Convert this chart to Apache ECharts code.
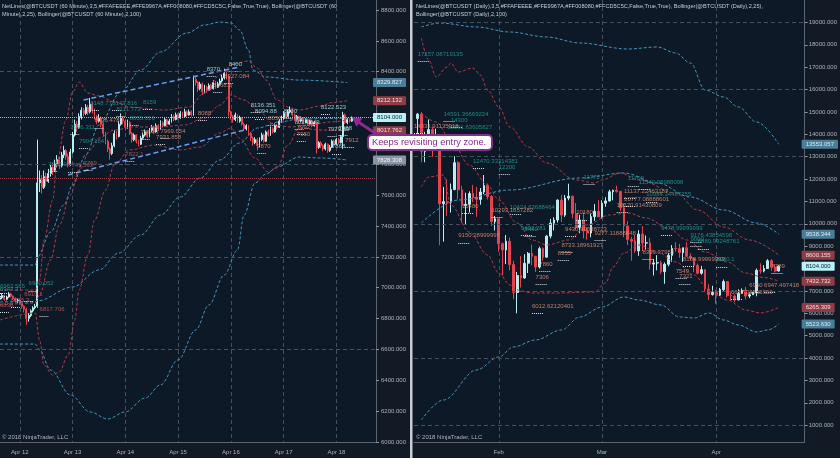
<!DOCTYPE html>
<html>
<head>
<meta charset="utf-8">
<title>BTCUSDT NetLines</title>
<script src="https://cdn.jsdelivr.net/npm/echarts@6.0.0/dist/echarts.min.js"></script>
<style>
  html, body { margin: 0; padding: 0; background: #121b25; }
  #chart { width: 840px; height: 458px; }
</style>
</head>
<body>
<div id="chart"></div>
<script>
  const MONTHS = ['Jan', 'Feb', 'Mar', 'Apr'];

  // hourly axis (left pane): Apr 11 15:00 .. Apr 18 18:00
  const hourCats = [];
  for (let i = 0; i < 172; i++) {
    const t = new Date(Date.UTC(2018, 3, 11, 15 + i));
    hourCats.push(MONTHS[t.getUTCMonth()] + ' ' + t.getUTCDate() + ' ' + String(t.getUTCHours()).padStart(2, '0') + ':00');
  }
  // daily axis (right pane): Jan 9 .. Apr 25
  const dayCats = [];
  for (let i = 0; i < 107; i++) {
    const t = new Date(Date.UTC(2018, 0, 9 + i));
    dayCats.push(MONTHS[t.getUTCMonth()] + ' ' + t.getUTCDate());
  }

  // hourly candles [open, close, low, high], from Apr 11 15:00
  const hourly = [
    [6925,6935,6910,6950],[6935,6950,6925,6965],[6950,6925,6915,6955],[6925,6940,6918,6948],
    [6940,6960,6935,6972],[6960,6945,6938,6966],[6945,6930,6920,6950],[6930,6915,6905,6938],
    [6915,6920,6900,6930],[6920,6900,6890,6925],[6900,6880,6865,6905],[6880,6860,6840,6885],
    [6860,6800,6760,6870],[6800,6820,6780,6835],[6820,6850,6810,6860],[6850,6870,6840,6880],
    [6870,6880,6860,6895],[6880,7680,6870,7960],[7680,7700,7620,7760],[7700,7650,7610,7730],
    [7650,7720,7640,7760],[7720,7690,7660,7745],[7690,7740,7680,7770],[7740,7780,7720,7800],
    [7780,7760,7730,7810],[7760,7800,7750,7830],[7800,7830,7780,7860],[7830,7790,7770,7850],
    [7790,7860,7780,7880],[7860,7890,7840,7920],[7890,7850,7830,7900],[7850,7800,7780,7870],
    [7800,7880,7790,7900],[7880,7990,7870,8010],[7990,8060,7980,8090],[8060,8040,8010,8080],
    [8040,8110,8030,8130],[8110,8150,8090,8170],[8150,8130,8110,8165],[8130,8170,8120,8190],
    [8170,8140,8120,8185],[8140,8190,8130,8230],[8190,8150,8130,8200],[8150,8110,8090,8160],
    [8110,8080,8060,8120],[8080,8100,8070,8125],[8100,8060,8040,8110],[8060,8000,7980,8070],
    [8000,7950,7930,8010],[7950,7900,7880,7960],[7900,7870,7830,7910],[7870,7920,7860,7940],
    [7920,8000,7910,8020],[8000,7980,7960,8015],[7980,8060,7975,8080],[8060,8100,8050,8130],
    [8100,8080,8060,8110],[8080,8040,8020,8090],[8040,8070,8030,8090],[8070,8000,7990,8080],
    [8000,7960,7940,8010],[7960,7990,7950,8000],[7990,7950,7935,7995],[7950,7930,7915,7960],
    [7930,7970,7925,7985],[7970,7990,7960,8005],[7990,8010,7980,8025],[8010,7980,7970,8020],
    [7980,8020,7975,8035],[8020,8040,8010,8055],[8040,8010,8000,8050],[8010,8050,8005,8065],
    [8050,8030,8020,8060],[8030,8070,8025,8085],[8070,8050,8040,8080],[8050,8090,8045,8100],
    [8090,8060,8050,8095],[8060,8080,8055,8095],[8080,8110,8070,8125],[8110,8090,8080,8120],
    [8090,8120,8085,8135],[8120,8100,8090,8130],[8100,8130,8095,8145],[8130,8110,8100,8140],
    [8110,8140,8105,8160],[8140,8120,8110,8150],[8120,8140,8115,8155],[8140,8120,8110,8150],
    [8120,8350,8115,8375],[8350,8330,8310,8370],[8330,8290,8270,8340],[8290,8320,8280,8335],
    [8320,8270,8250,8330],[8270,8300,8260,8315],[8300,8280,8265,8310],[8280,8310,8275,8325],
    [8310,8290,8280,8320],[8290,8330,8285,8345],[8330,8300,8290,8340],[8300,8320,8295,8335],
    [8320,8340,8310,8355],[8340,8360,8330,8380],[8360,8390,8350,8420],[8390,8370,8350,8400],
    [8370,8140,8110,8380],[8140,8110,8090,8150],[8110,8090,8070,8120],[8090,8120,8080,8135],
    [8120,8080,8070,8125],[8080,8100,8070,8115],[8100,8060,8050,8105],[8060,8030,8015,8070],
    [8030,8050,8020,8060],[8050,8000,7985,8055],[8000,7970,7950,8010],[7970,7940,7920,7980],
    [7940,7960,7930,7975],[7960,7920,7890,7970],[7920,7960,7910,7975],[7960,7990,7950,8005],
    [7990,7950,7940,8000],[7950,8010,7945,8020],[8010,7990,7980,8025],[7990,8030,7985,8045],
    [8030,8010,8000,8040],[8010,8050,8005,8065],[8050,8040,8025,8060],[8040,8080,8035,8095],
    [8080,8100,8070,8115],[8100,8130,8090,8145],[8130,8110,8100,8140],[8110,8140,8105,8155],
    [8140,8150,8130,8175],[8150,8120,8110,8160],[8120,8090,8080,8130],[8090,8110,8085,8120],
    [8110,8080,8070,8115],[8080,8100,8075,8110],[8100,8070,8060,8105],[8070,8090,8065,8100],
    [8090,8060,8050,8095],[8060,8080,8055,8090],[8080,8050,8040,8085],[8050,8070,8045,8080],
    [8070,7910,7870,8075],[7910,7940,7900,7950],[7940,7920,7905,7950],[7920,7900,7885,7930],
    [7900,7930,7890,7940],[7930,7890,7875,7935],[7890,7910,7880,7925],[7910,7950,7905,7960],
    [7950,7930,7920,7960],[7930,7960,7925,7970],[7960,7940,7930,7970],[7940,7980,7935,7990],
    [7980,8120,7900,8140],[8120,8070,8060,8130],[8070,8090,8060,8100],[8090,8080,8070,8100],
    [8080,8104,8075,8110]
  ];

  // daily candles [open, close, low, high], Jan 10 .. Apr 18
  const daily = [
    [14700,14900,13400,14950],[14900,13240,12750,15000],[13240,13740,12750,14110],[13740,14210,13420,14660],
    [14210,13480,12990,14340],[13480,13540,13400,14250],[13540,10900,9040,13540],[10900,10990,9200,11650],
    [10990,10960,10350,11990],[10960,11530,10500,11800],[11530,12730,11500,13020],[12730,11520,11100,12790],
    [11520,10810,10050,11700],[10810,10870,9980,11390],[10870,11350,10500,11450],[11350,11180,10960,11740],
    [11180,11090,10310,11650],[11090,11420,10850,11600],[11420,11710,11330,12180],[11710,11220,11080,11800],
    [11220,10100,9900,11280],[10100,10220,9700,10350],
    [10220,9110,8750,10230],[9110,8830,7700,9160],[8830,9220,8200,9500],[9220,8180,7930,9390],
    [8180,6930,6630,8350],[6930,7690,6000,7850],[7690,7580,7150,8560],[7580,8240,7550,8640],
    [8240,8680,7800,8740],[8680,8550,8150,9070],[8550,8070,7850,8550],[8070,8890,8000,8980],
    [8890,8510,8350,8950],[8510,9450,8500,9490],[9450,10030,9350,10220],[10030,10170,9700,10290],
    [10170,11060,10060,11090],[11060,10390,10080,11290],[10390,11150,10310,11290],[11150,11230,11050,11790],
    [11230,10460,10250,11260],[10460,9840,9750,10930],[9840,10170,9580,10400],[10170,9680,9350,10510],
    [9680,9590,9300,9840],[9590,10320,9400,10450],[10320,10560,10130,10880],[10560,10310,10300,11060],
    [10310,10920,10240,11050],[10920,11020,10760,11190],[11020,11430,11000,11520],[11430,11500,11050,11520],
    [11500,11450,11390,11700],[11450,10710,10580,11450],[10710,9900,9400,10900],[9900,9300,9050,10120],
    [9300,9230,8350,9420],[9230,8790,8700,9500],[8790,9540,8570,9720],[9540,9140,8780,9900],
    [9140,9150,8850,9480],[9150,8200,7950,9370],[8200,8250,7690,8430],[8250,8260,7920,8600],
    [8260,7860,7760,8350],[7860,8190,7320,8270],[8190,8590,8100,8700],[8590,8900,8300,9050],
    [8900,8890,8750,9180],[8890,8710,8480,9100],[8710,8930,8300,8930],[8930,8550,8510,9180],
    [8550,8460,8370,8680],[8460,8140,7840,8510],[8140,7790,7740,8220],[7790,7950,7730,8120],
    [7950,7090,6940,7970],[7090,6840,6600,7300],[6840,6930,6790,7230],
    [6930,6810,6430,7050],[6810,7060,6770,7130],[7060,7420,7000,7510],[7420,6790,6710,7430],
    [6790,6770,6550,6930],[6770,6600,6500,6850],[6600,6890,6580,7070],[6890,7030,6880,7110],
    [7030,6770,6620,7180],[6770,6830,6680,6890],[6830,6930,6820,6970],[6930,7920,6760,8000],
    [7920,7890,7770,8230],[7890,8000,7830,8150],[8000,8350,7990,8420],[8350,8060,7900,8420],
    [8060,7890,7830,8170],[7890,8104,7870,8150]
  ];

  // Bollinger bands: [axis index, price]
  const h100Upper = [[0,7147],[16,7147],[17,7199],[23,7361],[29,7536],[33,7666],[39,7860],[45,8055],[55,8269],[64,8411],[73,8528],[85,8651],[93,8703],[100,8722],[105,8716],[109,8671],[113,8541],[115,8411],[121,8366],[136,8346],[158,8330]];
  const h100Mid = [[0,6908],[16,6908],[17,6915],[33,7005],[45,7115],[54,7225],[64,7342],[73,7471],[82,7588],[91,7711],[100,7828],[109,7938],[117,8035],[127,8074],[136,8094],[158,8100]];
  const h100Lower = [[0,6635],[16,6635],[18,6596],[23,6467],[32,6305],[41,6195],[49,6149],[57,6195],[66,6285],[73,6370],[81,6532],[89,6726],[95,6888],[102,7083],[108,7245],[111,7471],[116,7679],[121,7737],[126,7783],[136,7847],[146,7841],[158,7828]];
  const h25Upper = [[0,6985],[16,6985],[18,7050],[20,7309],[24,7569],[26,7828],[30,8087],[33,8269],[36,8333],[40,8262],[45,8243],[52,8204],[59,8171],[75,8152],[86,8171],[93,8262],[100,8379],[106,8450],[113,8470],[117,8424],[121,8346],[126,8217],[132,8165],[136,8152],[146,8178],[151,8200],[158,8212]];
  const h25Mid = [[0,6888],[16,6901],[18,6953],[23,7180],[27,7407],[32,7601],[36,7763],[41,7893],[45,7970],[52,8022],[61,8042],[73,8042],[84,8055],[93,8100],[100,8184],[105,8249],[111,8217],[118,8139],[125,8055],[132,8042],[141,8055],[150,8074],[158,8087]];
  const h25Lower = [[0,6791],[16,6836],[18,6661],[20,6499],[24,6434],[27,6454],[31,6564],[34,6791],[36,6985],[40,7212],[43,7439],[48,7633],[52,7796],[59,7893],[70,7925],[82,7893],[91,7912],[100,8003],[105,8035],[109,7970],[116,7841],[122,7750],[126,7776],[131,7925],[136,8035],[146,8022],[158,8018]];

  const d100Upper = [[2,18794],[7,18972],[17,18794],[26,18570],[36,18347],[45,18079],[58,17811],[66,17900],[71,17632],[75,17185],[79,15979],[84,15666],[88,15219],[93,14549],[99,13553]];
  const d100Mid = [[2,10036],[12,11064],[26,11511],[45,12047],[57,12270],[66,11824],[75,11198],[84,10617],[93,10036],[99,9538]];
  const d100Lower = [[2,1234],[8,2128],[17,3468],[23,4049],[27,4496],[33,4809],[40,5256],[45,5837],[51,6283],[57,6730],[61,6596],[67,6373],[72,5837],[76,5792],[80,6015],[84,5702],[88,5479],[93,5166],[96,5256],[99,5524]];
  const d25Upper = [[2,18302],[4,17319],[6,16560],[9,17006],[10,17185],[12,16783],[16,16962],[18,16649],[20,15979],[23,15219],[26,14326],[31,13432],[36,12717],[44,11958],[49,11824],[51,11958],[56,12270],[61,11958],[71,11377],[77,10617],[84,9858],[91,9277],[99,8600]];
  const d25Mid = [[2,14951],[6,14549],[10,13745],[15,12628],[20,11734],[23,11064],[28,10036],[32,9277],[36,9053],[42,9277],[47,9947],[53,10394],[58,10483],[63,10260],[69,9813],[74,9277],[79,8741],[85,8294],[90,7802],[95,7600],[99,7433]];
  const d25Lower = [[2,11645],[4,12092],[8,12181],[10,10841],[15,9634],[20,8607],[23,7802],[26,7266],[28,7043],[32,6909],[39,6909],[49,6954],[52,7356],[54,8071],[57,8696],[61,9053],[66,8741],[71,8294],[76,7713],[80,7043],[85,6596],[90,6149],[94,6015],[99,6265]];

  // drawn channel lines on the hourly pane
  const trendUpper = [[38,8217],[109,8431]];
  const trendLower = [[31,7731],[111,8022]];

  // NetLines levels: [axis index, level text, colour key]
  const hourNet = [
    [41,'8148.77','TL'],[51,'8149.816','TL'],[65,'8159','TL'],[53,'8111.773','TL'],[59,'8055.016','TL'],
    [32,'7996.311','TL'],[36,'7904.164','TL'],[43,'8036.478','DS'],[57,'7822.1','IR'],[38,'7759','IR'],
    [31,'7749.593','IR'],[22,'7752.06','TL'],[64,'7964.7','DS'],[73,'7969.654','DS'],[71,'7931.858','DS'],
    [90,'8088','DS'],[94,'8370','PT'],[104,'8400','PT'],[102,'8327.084','DS'],[97,'8268.2','DS'],
    [114,'8136.351','PT'],[116,'8094.88','PT'],[122,'8050','DS'],[129,'8100','PT'],[134,'8024.549','PT'],
    [135,'7992','DS'],[135,'7950','DS'],[117,'7870','DS'],[146,'8122.523','PT'],[149,'7979.69','PT'],
    [154,'7988','PT'],[157,'7912','DS'],[151,'7868','PT'],
    [0,'6963.585','TL'],[13,'6980.052','TL'],[0,'6947.3','TL'],[11,'6910.1','IR'],[5,'6875.3','IR'],
    [0,'6838','IR'],[18,'6817.706','IR']
  ];
  const dayNet = [
    [1,'17257.08719135','TL'],[8,'14591.36669224','TL'],[10,'14300','TL'],[9,'13991.63605827','TL'],
    [0,'14033.91135918','DS'],[16,'12470.33314381','TL'],[23,'12200','TL'],[26,'10424.63688464','TL'],
    [13,'10480','DS'],[21,'10293.1657282','DS'],[12,'9150.28999997','DS'],[29,'9492.281','TL'],
    [30,'9460','TL'],[41,'9430.99888723','DS'],[40,'8733.18961927','DS'],[39,'8355','DS'],
    [34,'7860','DS'],[33,'7306','DS'],[32,'6012.62120401','DS'],[46,'11772','TL'],[58,'11700','TL'],
    [61,'11542.98988098','TL'],[63,'10984.34487755','TL'],[57,'11137.22463187','DS'],[57,'10777.08888601','DS'],
    [55,'10520.91430809','DS'],[44,'10180','DS'],[49,'9277.11888648','DS'],[67,'9478.99999999','TL'],
    [75,'9176.43854598','TL'],[75,'9000','TL'],[77,'8880.99248761','TL'],[62,'8399.37958','DS'],
    [73,'8104.99999999','DS'],[82,'8080.1','TL'],[71,'7549','DS'],[72,'7321','DS'],[97,'7789','DS'],
    [91,'6950','DS'],[95,'6947.497418','DS'],[86,'6637.03555956','DS']
  ];

  // price flags on the axes
  const hourTags = [[8329.827,'blue'],[8212.132,'red'],[8104.000,'cyan'],[8017.762,'red'],[7828.308,'gray']];
  const dayTags = [[13553.057,'blue'],[9538.344,'blue'],[8600.155,'red'],[8104.000,'cyan'],[7432.732,'red'],[6265.309,'red'],[5523.630,'blue']];

  // axis ticks and dashed grid levels
  const hourTicks = [6000,6200,6400,6600,6800,7000,7200,7400,7600,7800,8000,8200,8400,8600,8800];
  const hourGrid = [6600,7200,7800,8400];
  const dayTicks = [1000,2000,3000,4000,5000,6000,7000,8000,9000,10000,11000,12000,13000,14000,15000,16000,17000,18000,19000];
  const dayGrid = [1000,4000,7000,10000,13000,16000,19000];

  const NET_COLORS = { PT: '#afeeee', DS: '#e9967a', TL: '#1fa59c', IR: '#d55f5f' };
  const TAG = {
    blue: ['#4a7d97', '#dbe9f2'],
    red: ['#8c3d47', '#f3dada'],
    cyan: ['#b8f1f6', '#10202c'],
    gray: ['#8995a6', '#eef2f6']
  };
  const BLUE = '#4696be';
  const RED = '#b23a48';
  const GRID_LINE = { color: '#47515d', type: [4, 3], width: 1 };
  const AXIS_TEXT = { color: '#a9b2bc', fontSize: 6 };

  const chart = echarts.init(document.getElementById('chart'));

  function band(data, color, xi, yi) {
    return {
      type: 'line', xAxisIndex: xi, yAxisIndex: yi, data: data, smooth: 0.35, smoothMonotone: 'x',
      symbol: 'none', silent: true, z: 3,
      lineStyle: { color: color, width: 1, type: [3, 2] }
    };
  }

  function netSeries(list, xi, yi, dotLen) {
    return {
      type: 'scatter', xAxisIndex: xi, yAxisIndex: yi, symbolSize: 0, silent: true, z: 6,
      data: list.map(function (l) {
        return { value: [l[0], parseFloat(l[1])], name: l[1], label: { color: NET_COLORS[l[2]] } };
      }),
      label: { show: true, position: 'right', distance: 0, offset: [0, -7], fontSize: 6, formatter: function (p) { return p.name; } },
      markLine: {
        silent: true, symbol: ['none', 'none'], label: { show: false },
        lineStyle: { color: '#dfe6ea', type: 'dotted', width: 1 },
        data: list.map(function (l) {
          const v = parseFloat(l[1]);
          return [{ coord: [l[0], v] }, { coord: [l[0] + dotLen, v] }];
        })
      }
    };
  }

  function gridLines(levels) {
    return levels.map(function (v) {
      return { yAxis: v, lineStyle: GRID_LINE, label: { show: false } };
    });
  }

  function tagLines(tags) {
    return tags.map(function (t) {
      return {
        yAxis: t[0],
        lineStyle: { color: 'rgba(0,0,0,0)' },
        label: { show: true, backgroundColor: TAG[t[1]][0], color: TAG[t[1]][1] }
      };
    });
  }

  function candle(data, xi, yi, width, extraLines) {
    return {
      type: 'candlestick', xAxisIndex: xi, yAxisIndex: yi, data: data, barWidth: width, z: 2,
      itemStyle: { color: '#b9eef0', color0: '#e8424f', borderColor: '#b9eef0', borderColor0: '#e8424f', borderWidth: 1 },
      markLine: {
        silent: true, symbol: ['none', 'none'], animation: false, z: 8, precision: 3,
        label: {
          show: true, position: 'end', distance: -3, fontSize: 6, padding: [2, 4, 1, 4], borderRadius: 1,
          formatter: function (p) { return Number(p.value).toFixed(3); }
        },
        data: extraLines
      }
    };
  }

  const hourLines = gridLines(hourGrid).concat([
    { yAxis: 8104, lineStyle: { color: '#86d98a', type: 'dotted', width: 1 }, label: { show: false } },
    { yAxis: 7712, lineStyle: { color: '#a53a46', type: 'dotted', width: 1 }, label: { show: false } }
  ]).concat(tagLines(hourTags));
  const dayLines = gridLines(dayGrid).concat(tagLines(dayTags));

  const option = {
    backgroundColor: '#121b25',
    animation: false,
    textStyle: { fontFamily: 'Liberation Sans, Arial, sans-serif' },
    grid: [
      { left: 0, top: 0, width: 376, height: 442, show: true, backgroundColor: '#0d1926', borderWidth: 0 },
      { left: 414, top: 0, width: 395, height: 442, show: true, backgroundColor: '#0d1926', borderWidth: 0 }
    ],
    xAxis: [
      {
        type: 'category', gridIndex: 0, data: hourCats, boundaryGap: false,
        axisLine: { lineStyle: { color: '#5b6671' } }, axisTick: { show: false },
        axisLabel: Object.assign({ margin: 7, interval: function (i, v) { return v.endsWith(' 00:00'); }, formatter: function (v) { return v.replace(' 00:00', ''); } }, AXIS_TEXT),
        splitLine: { show: true, interval: function (i, v) { return v.endsWith(' 00:00'); }, lineStyle: GRID_LINE }
      },
      {
        type: 'category', gridIndex: 1, data: dayCats, boundaryGap: false,
        axisLine: { lineStyle: { color: '#5b6671' } }, axisTick: { show: false },
        axisLabel: Object.assign({ margin: 7, interval: function (i, v) { return / 1$/.test(v); }, formatter: function (v) { return v.split(' ')[0]; } }, AXIS_TEXT),
        splitLine: { show: true, interval: function (i, v) { return / 1$/.test(v); }, lineStyle: GRID_LINE }
      }
    ],
    yAxis: [
      {
        type: 'value', gridIndex: 0, position: 'right', min: 6000, max: 8865,
        axisLine: { show: true, lineStyle: { color: '#5b6671' } },
        axisTick: { show: true, length: 3, customValues: hourTicks, lineStyle: { color: '#8a949e' } },
        axisLabel: Object.assign({ margin: 5, customValues: hourTicks, formatter: function (v) { return v.toFixed(3); } }, AXIS_TEXT),
        splitLine: { show: false }
      },
      {
        type: 'value', gridIndex: 1, position: 'right', min: 250, max: 20000,
        axisLine: { show: true, lineStyle: { color: '#5b6671' } },
        axisTick: { show: true, length: 3, customValues: dayTicks, lineStyle: { color: '#8a949e' } },
        axisLabel: Object.assign({ margin: 4, customValues: dayTicks, formatter: function (v) { return v.toFixed(3); } }, AXIS_TEXT),
        splitLine: { show: false }
      }
    ],
    series: [
      candle(hourly, 0, 0, 1.4, hourLines),
      band(h100Upper, BLUE, 0, 0), band(h100Mid, BLUE, 0, 0), band(h100Lower, BLUE, 0, 0),
      band(h25Upper, RED, 0, 0), band(h25Mid, RED, 0, 0), band(h25Lower, RED, 0, 0),
      { type: 'line', xAxisIndex: 0, yAxisIndex: 0, data: trendUpper, symbol: 'none', silent: true, z: 4, lineStyle: { color: '#6c9cf0', width: 1.5, type: [5, 3] } },
      { type: 'line', xAxisIndex: 0, yAxisIndex: 0, data: trendLower, symbol: 'none', silent: true, z: 4, lineStyle: { color: '#6c9cf0', width: 1.5, type: [5, 3] } },
      netSeries(hourNet, 0, 0, 4),

      candle(['-'].concat(daily), 1, 1, 2.2, dayLines),
      band(d100Upper, BLUE, 1, 1), band(d100Mid, BLUE, 1, 1), band(d100Lower, BLUE, 1, 1),
      band(d25Upper, RED, 1, 1), band(d25Mid, RED, 1, 1), band(d25Lower, RED, 1, 1),
      netSeries(dayNet, 1, 1, 3)
    ],
    graphic: [
      { type: 'rect', silent: true, z: -1, shape: { x: 160, y: 110, width: 105, height: 330 }, style: { fill: 'rgba(14,42,78,0.35)' } },
      { type: 'rect', silent: true, z: -1, shape: { x: 683, y: 82, width: 107, height: 230 }, style: { fill: 'rgba(14,42,78,0.35)' } },
      { type: 'rect', silent: true, shape: { x: 410, y: 0, width: 2.5, height: 458 }, style: { fill: '#c9cdd2' } },
      { type: 'text', silent: true, left: 2, top: 2, style: { text: 'NetLines(@BTCUSDT (60 Minute),3,5,#FFAFEEEE,#FFE9967A,#FF008080,#FFCD5C5C,False,True,True), Bollinger(@BTCUSDT (60\nMinute),2,25), Bollinger(@BTCUSDT (60 Minute),2,100)', fill: '#c6cdd5', fontSize: 5.6, lineHeight: 8, fontFamily: 'Liberation Sans' } },
      { type: 'text', silent: true, left: 416, top: 2, style: { text: 'NetLines(@BTCUSDT (Daily),3,5,#FFAFEEEE,#FFE9967A,#FF008080,#FFCD5C5C,False,True,True), Bollinger(@BTCUSDT (Daily),2,25),\nBollinger(@BTCUSDT (Daily),2,100)', fill: '#c6cdd5', fontSize: 5.6, lineHeight: 8, fontFamily: 'Liberation Sans' } },
      { type: 'text', silent: true, left: 2, top: 434, style: { text: '\u00a9 2018 NinjaTrader, LLC', fill: '#aeb6be', fontSize: 6, fontFamily: 'Liberation Sans' } },
      { type: 'text', silent: true, left: 416, top: 434, style: { text: '\u00a9 2018 NinjaTrader, LLC', fill: '#aeb6be', fontSize: 6, fontFamily: 'Liberation Sans' } },
      // annotation callout
      { type: 'line', silent: true, z: 20, shape: { x1: 381, y1: 137, x2: 359, y2: 122.5 }, style: { stroke: '#8e2a94', lineWidth: 3 } },
      { type: 'polygon', silent: true, z: 20, shape: { points: [[352, 117.5], [362.5, 118.3], [356.5, 126.8]] }, style: { fill: '#8e2a94' } },
      { type: 'rect', silent: true, z: 20, shape: { x: 368, y: 135, width: 124, height: 15, r: 4 }, style: { fill: '#ffffff', stroke: '#8e2a94', lineWidth: 2 } },
      { type: 'text', silent: true, z: 21, left: 372, top: 137.5, style: { text: 'Keeps revisiting entry zone.', fill: '#8a2b8f', fontSize: 9.3, fontFamily: 'Liberation Sans' } }
    ]
  };

  chart.setOption(option);
</script>
</body>
</html>
